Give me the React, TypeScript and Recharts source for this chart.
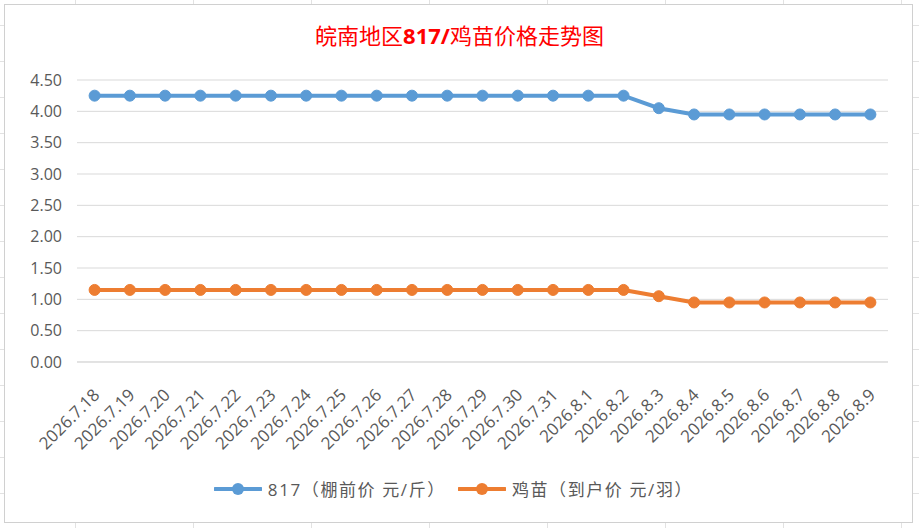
import { LineChart, Line, XAxis, YAxis, CartesianGrid } from "recharts"

const dates = [
  "2026.7.18", "2026.7.19", "2026.7.20", "2026.7.21", "2026.7.22", "2026.7.23",
  "2026.7.24", "2026.7.25", "2026.7.26", "2026.7.27", "2026.7.28", "2026.7.29",
  "2026.7.30", "2026.7.31", "2026.8.1", "2026.8.2", "2026.8.3", "2026.8.4",
  "2026.8.5", "2026.8.6", "2026.8.7", "2026.8.8", "2026.8.9",
]

const price817 = [
  4.25, 4.25, 4.25, 4.25, 4.25, 4.25, 4.25, 4.25, 4.25, 4.25, 4.25, 4.25,
  4.25, 4.25, 4.25, 4.25, 4.05, 3.95, 3.95, 3.95, 3.95, 3.95, 3.95,
]

const chickPrice = [
  1.15, 1.15, 1.15, 1.15, 1.15, 1.15, 1.15, 1.15, 1.15, 1.15, 1.15, 1.15,
  1.15, 1.15, 1.15, 1.15, 1.05, 0.95, 0.95, 0.95, 0.95, 0.95, 0.95,
]

const yTicks = [0, 0.5, 1, 1.5, 2, 2.5, 3, 3.5, 4, 4.5]

const seriesNames = ["817（棚前价 元/斤）", "鸡苗（到户价 元/羽）"]
const seriesColors = ["#5B9BD5", "#ED7D31"]

const data = dates.map((d, i) => ({ date: d, p817: price817[i], chick: chickPrice[i] }))

const FONT = "'Open Sans', 'Noto Sans CJK SC', sans-serif"
const TEXT = "#595959"

function DateTick({ x, y, payload }: any) {
  const ax = x + 6
  const ay = y + 26
  return (
    <text
      x={ax}
      y={ay}
      transform={`rotate(-45 ${ax} ${ay})`}
      textAnchor="end"
      fill={TEXT}
      fontSize={17}
      fontFamily={FONT}
    >
      {payload.value}
    </text>
  )
}

function LegendItem({ color, label }: { color: string; label: string }) {
  return (
    <div style={{ display: "flex", alignItems: "center", marginRight: 12 }}>
      <svg width={48} height={14} style={{ marginRight: 6 }}>
        <line x1={1} y1={7} x2={47} y2={7} stroke={color} strokeWidth={4} strokeLinecap="round" />
        <circle cx={24} cy={7} r={6} fill={color} />
      </svg>
      <span style={{ color: TEXT, fontSize: 17, letterSpacing: 1.6, fontFamily: FONT }}>{label}</span>
    </div>
  )
}

export default function App() {
  const sheetBg =
    "repeating-linear-gradient(to right, transparent 0, transparent 75px, #e2e2e2 75px, #e2e2e2 76px, transparent 76px, transparent 118px)," +
    "repeating-linear-gradient(to bottom, transparent 0, transparent 25px, #e2e2e2 25px, #e2e2e2 26px, transparent 26px, transparent 36px)"
  return (
    <div
      style={{
        position: "absolute",
        left: 0,
        top: 0,
        width: 919,
        height: 528,
        background: "#fff",
        backgroundImage: sheetBg,
        overflow: "hidden",
      }}
    >
      <div
        style={{
          position: "absolute",
          left: 4,
          top: 4,
          width: 907,
          height: 517,
          background: "#fff",
          border: "1px solid #D0D0D0",
        }}
      />
      <div style={{ position: "absolute", left: 0, top: 0 }}>
        <LineChart width={919} height={528} data={data} margin={{ top: 80, right: 31, bottom: 0, left: 0 }}>
          <CartesianGrid vertical={false} stroke="#D9D9D9" strokeWidth={1} />
          <XAxis
            dataKey="date"
            interval={0}
            height={166}
            padding={{ left: 17.6, right: 17.6 }}
            tickLine={false}
            axisLine={{ stroke: "#D9D9D9" }}
            tick={<DateTick />}
          />
          <YAxis
            width={77}
            domain={[0, 4.5]}
            ticks={yTicks}
            tickFormatter={(v: number) => v.toFixed(2)}
            axisLine={false}
            tickLine={false}
            tickMargin={9}
            tick={{ fill: TEXT, fontSize: 16, fontFamily: FONT }}
          />
          <Line
            dataKey="p817"
            name={seriesNames[0]}
            stroke={seriesColors[0]}
            strokeWidth={4}
            dot={{ r: 5.5, fill: seriesColors[0], stroke: seriesColors[0], strokeWidth: 1 }}
            isAnimationActive={false}
          />
          <Line
            dataKey="chick"
            name={seriesNames[1]}
            stroke={seriesColors[1]}
            strokeWidth={4}
            dot={{ r: 5.5, fill: seriesColors[1], stroke: seriesColors[1], strokeWidth: 1 }}
            isAnimationActive={false}
          />
        </LineChart>
      </div>
      <div
        style={{
          position: "absolute",
          left: 0,
          top: 18,
          width: 919,
          textAlign: "center",
          color: "#FF0000",
          fontSize: 22,
          fontFamily: "'Noto Sans CJK SC', sans-serif",
        }}
      >
        皖南地区<b style={{ fontFamily: "'Open Sans', sans-serif" }}>817/</b>鸡苗价格走势图
      </div>
      <div
        style={{
          position: "absolute",
          left: 0,
          top: 476,
          width: 919,
          display: "flex",
          justifyContent: "center",
        }}
      >
        {seriesNames.map((n, i) => (
          <LegendItem key={n} color={seriesColors[i]} label={n} />
        ))}
      </div>
    </div>
  )
}
